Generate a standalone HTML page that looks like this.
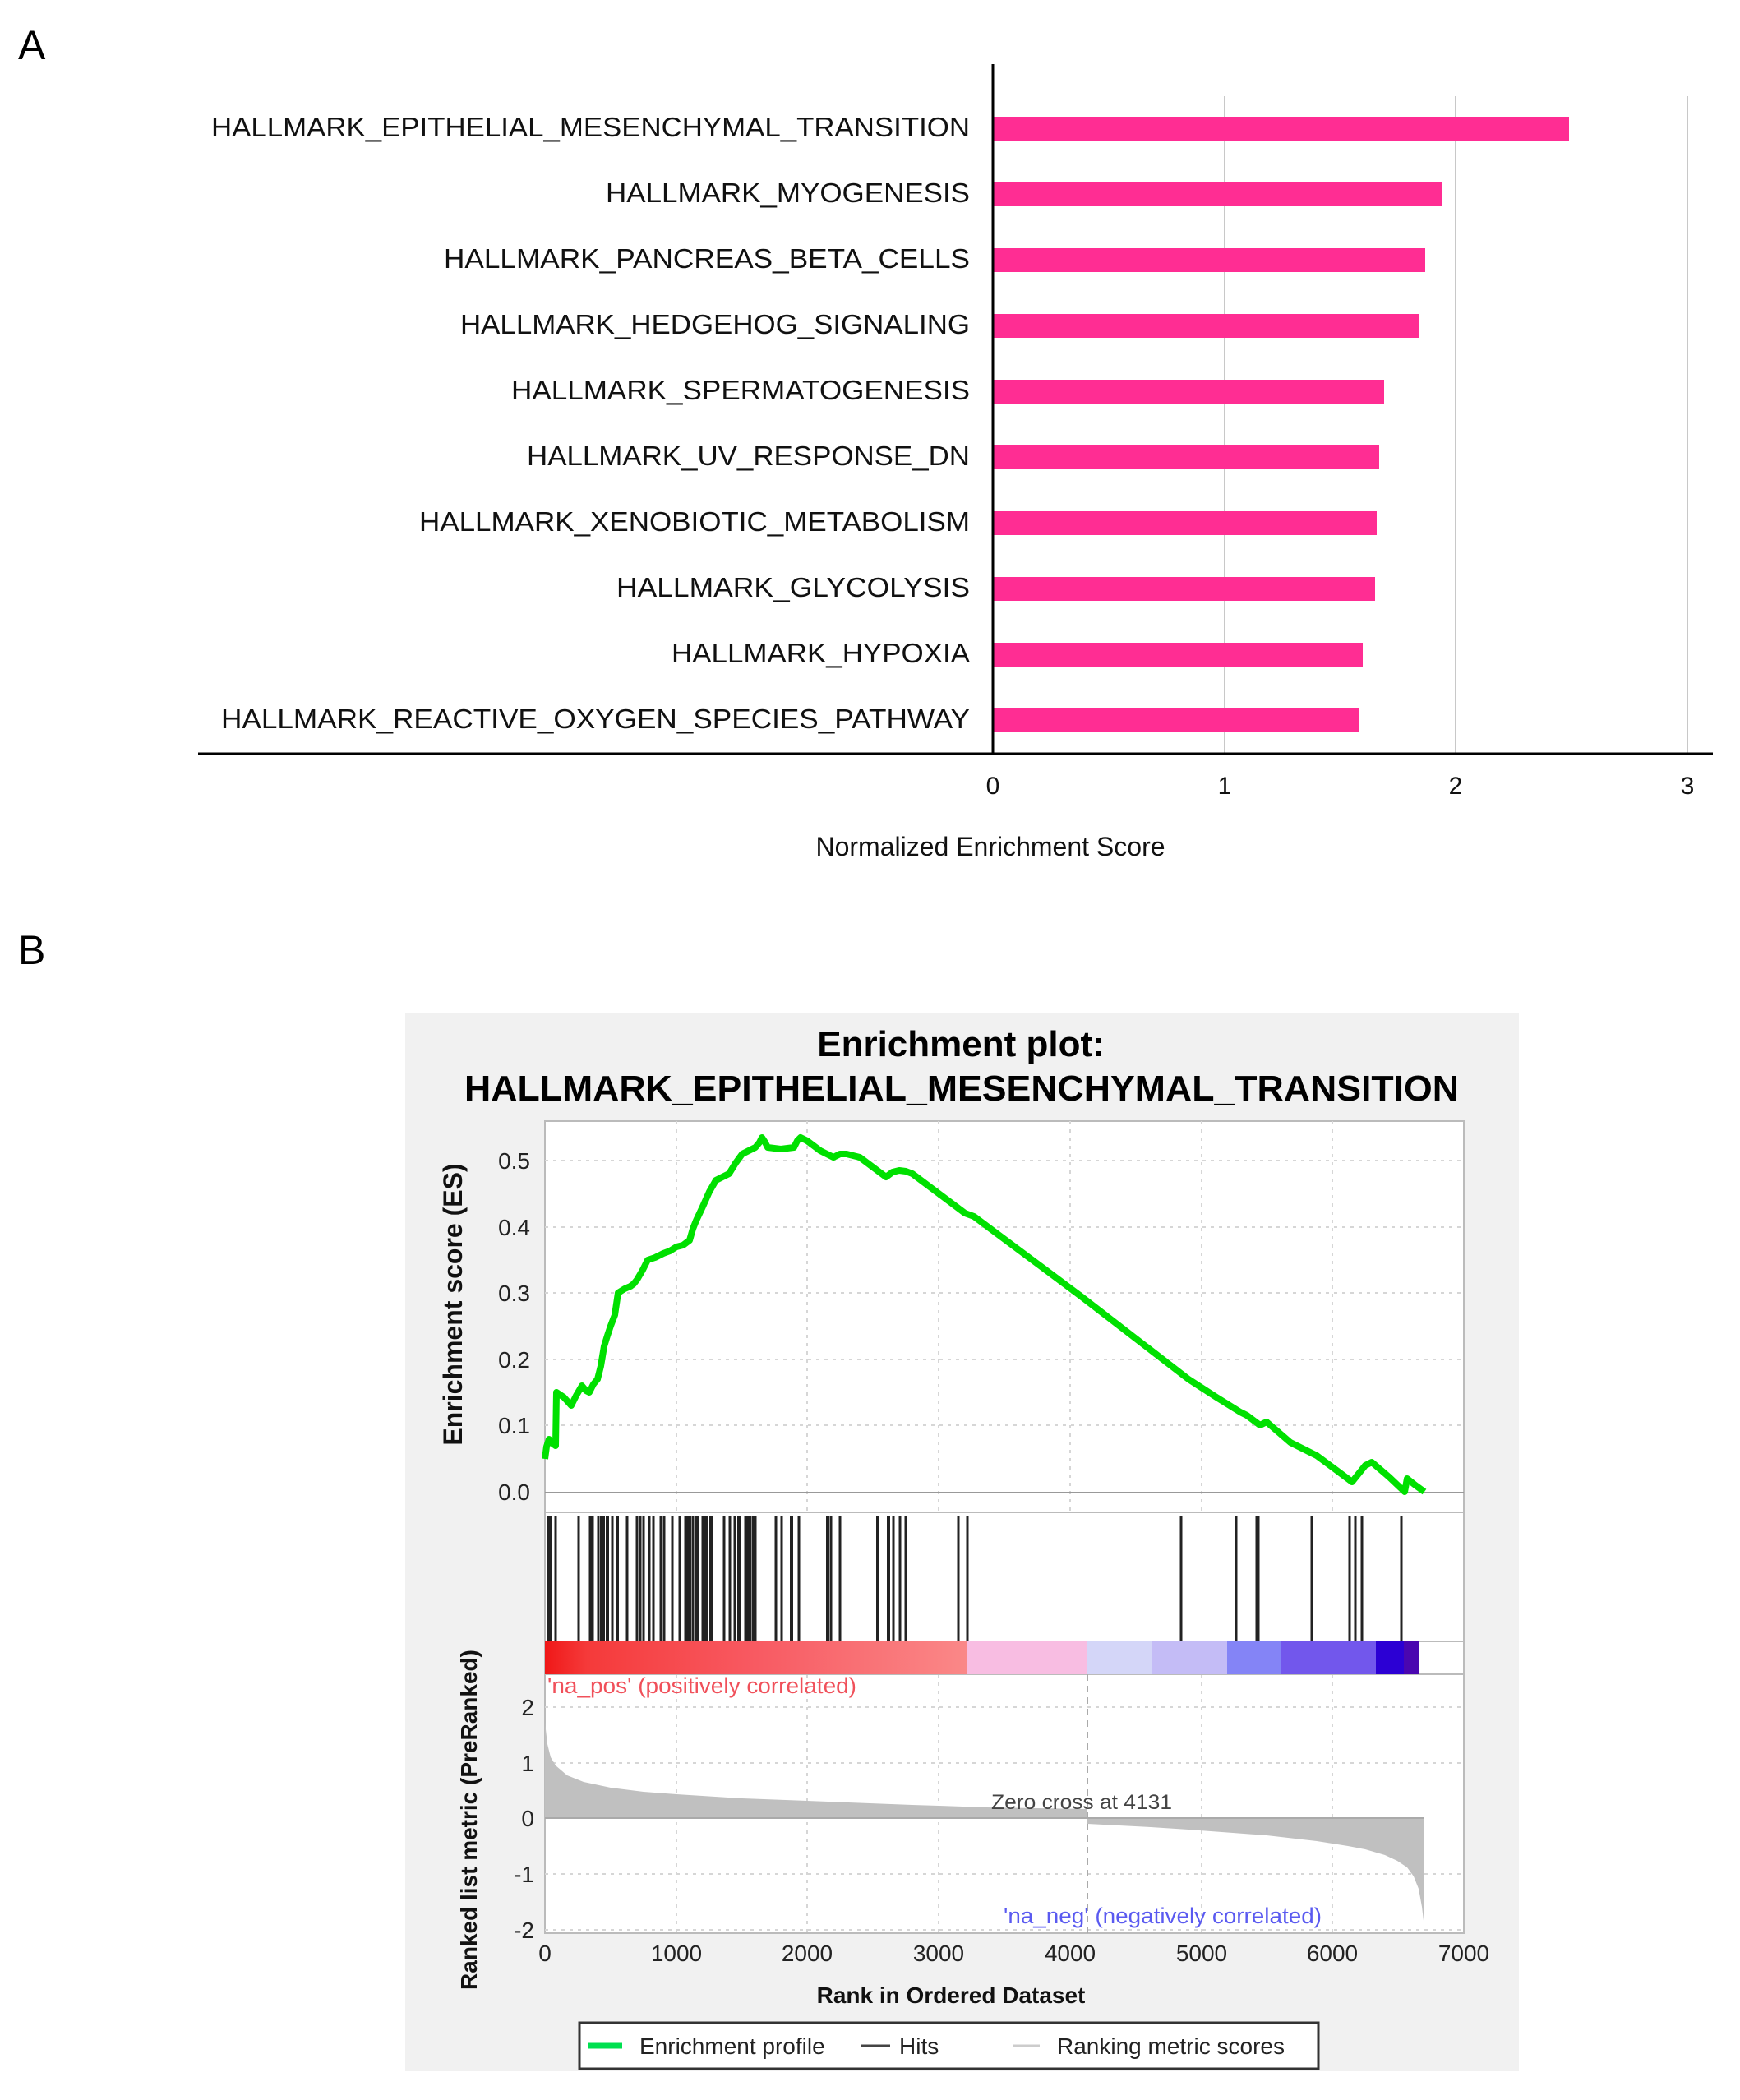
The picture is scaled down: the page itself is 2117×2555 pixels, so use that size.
<!DOCTYPE html>
<html><head><meta charset="utf-8"><style>html,body{margin:0;padding:0;background:#fff}svg{display:block}</style></head><body>
<svg width="2117" height="2555" viewBox="0 0 2117 2555" xmlns="http://www.w3.org/2000/svg" font-family="Liberation Sans, sans-serif">
<rect width="2117" height="2555" fill="#fff"/>
<text x="22" y="72" font-size="50" fill="#000">A</text>
<g stroke="#c8c8c8" stroke-width="2"><line x1="1490" y1="117" x2="1490" y2="917"/><line x1="1771" y1="117" x2="1771" y2="917"/><line x1="2053" y1="117" x2="2053" y2="917"/></g>
<g fill="#ff2d93">
<rect x="1208" y="142" width="701" height="29"/>
<rect x="1208" y="222" width="546" height="29"/>
<rect x="1208" y="302" width="526" height="29"/>
<rect x="1208" y="382" width="518" height="29"/>
<rect x="1208" y="462" width="476" height="29"/>
<rect x="1208" y="542" width="470" height="29"/>
<rect x="1208" y="622" width="467" height="29"/>
<rect x="1208" y="702" width="465" height="29"/>
<rect x="1208" y="782" width="450" height="29"/>
<rect x="1208" y="862" width="445" height="29"/>
</g>
<line x1="1208" y1="78" x2="1208" y2="918" stroke="#000" stroke-width="3"/>
<line x1="241" y1="917" x2="2084" y2="917" stroke="#000" stroke-width="3"/>
<g font-size="33" fill="#111">
<text x="257" y="166" textLength="923" lengthAdjust="spacingAndGlyphs">HALLMARK_EPITHELIAL_MESENCHYMAL_TRANSITION</text>
<text x="737" y="246" textLength="443" lengthAdjust="spacingAndGlyphs">HALLMARK_MYOGENESIS</text>
<text x="540" y="326" textLength="640" lengthAdjust="spacingAndGlyphs">HALLMARK_PANCREAS_BETA_CELLS</text>
<text x="560" y="406" textLength="620" lengthAdjust="spacingAndGlyphs">HALLMARK_HEDGEHOG_SIGNALING</text>
<text x="622" y="486" textLength="558" lengthAdjust="spacingAndGlyphs">HALLMARK_SPERMATOGENESIS</text>
<text x="641" y="566" textLength="539" lengthAdjust="spacingAndGlyphs">HALLMARK_UV_RESPONSE_DN</text>
<text x="510" y="646" textLength="670" lengthAdjust="spacingAndGlyphs">HALLMARK_XENOBIOTIC_METABOLISM</text>
<text x="750" y="726" textLength="430" lengthAdjust="spacingAndGlyphs">HALLMARK_GLYCOLYSIS</text>
<text x="817" y="806" textLength="363" lengthAdjust="spacingAndGlyphs">HALLMARK_HYPOXIA</text>
<text x="269" y="886" textLength="911" lengthAdjust="spacingAndGlyphs">HALLMARK_REACTIVE_OXYGEN_SPECIES_PATHWAY</text>
</g>
<g font-size="30" fill="#111" text-anchor="middle">
<text x="1208" y="966">0</text><text x="1490" y="966">1</text><text x="1771" y="966">2</text><text x="2053" y="966">3</text>
<text x="1205" y="1041" font-size="32">Normalized Enrichment Score</text>
</g>
<text x="22" y="1173" font-size="50" fill="#000">B</text>
<rect x="493" y="1232" width="1355" height="1288" fill="#f1f1f1"/>
<g font-weight="bold" text-anchor="middle" fill="#000">
<text x="1169" y="1285" font-size="44">Enrichment plot:</text>
<text x="1170" y="1339" font-size="44" textLength="1210" lengthAdjust="spacingAndGlyphs">HALLMARK_EPITHELIAL_MESENCHYMAL_TRANSITION</text>
</g>
<rect x="663" y="1364" width="1118" height="988" fill="#fff" stroke="#bbb" stroke-width="2"/>
<g stroke="#d6d6d6" stroke-width="2" stroke-dasharray="4,6">
<line x1="823" y1="1364" x2="823" y2="1840"/><line x1="982" y1="1364" x2="982" y2="1840"/><line x1="1142" y1="1364" x2="1142" y2="1840"/><line x1="1302" y1="1364" x2="1302" y2="1840"/><line x1="1462" y1="1364" x2="1462" y2="1840"/><line x1="1621" y1="1364" x2="1621" y2="1840"/>
<line x1="663" y1="1412" x2="1781" y2="1412"/><line x1="663" y1="1493" x2="1781" y2="1493"/><line x1="663" y1="1573" x2="1781" y2="1573"/><line x1="663" y1="1654" x2="1781" y2="1654"/><line x1="663" y1="1734" x2="1781" y2="1734"/>
<line x1="823" y1="2037" x2="823" y2="2352"/><line x1="982" y1="2037" x2="982" y2="2352"/><line x1="1142" y1="2037" x2="1142" y2="2352"/><line x1="1462" y1="2037" x2="1462" y2="2352"/><line x1="1621" y1="2037" x2="1621" y2="2352"/>
<line x1="663" y1="2077" x2="1781" y2="2077"/><line x1="663" y1="2145" x2="1781" y2="2145"/><line x1="663" y1="2280" x2="1781" y2="2280"/><line x1="663" y1="2348" x2="1781" y2="2348"/>
</g>
<line x1="663" y1="1816" x2="1781" y2="1816" stroke="#999" stroke-width="2"/>
<line x1="663" y1="1840" x2="1781" y2="1840" stroke="#bbb" stroke-width="2"/>
<line x1="663" y1="1997" x2="1781" y2="1997" stroke="#bbb" stroke-width="2"/>
<line x1="663" y1="2037" x2="1781" y2="2037" stroke="#bbb" stroke-width="2"/>
<polyline fill="none" stroke="#00e000" stroke-width="8" stroke-linejoin="round" points="663,1775 665,1760 668,1751 672,1756 676,1759 677,1694 686,1700 695,1710 701,1698 708,1686 713,1692 717,1694 722,1684 727,1678 731,1662 735,1638 739,1625 743,1613 748,1600 752,1573 760,1568 767,1565 771,1562 775,1557 782,1545 788,1533 797,1530 807,1525 815,1522 823,1517 831,1515 839,1509 843,1495 847,1485 855,1468 863,1450 871,1436 879,1432 887,1428 895,1415 903,1404 911,1400 919,1396 924,1390 927,1384 931,1390 934,1396 950,1398 966,1396 970,1388 974,1384 982,1388 998,1400 1014,1408 1022,1404 1030,1404 1046,1408 1062,1420 1078,1432 1086,1426 1094,1424 1102,1425 1110,1428 1142,1452 1174,1476 1185,1480 1315,1577 1446,1678 1480,1700 1509,1718 1517,1722 1533,1734 1541,1730 1570,1755 1602,1771 1625,1788 1645,1803 1661,1783 1669,1779 1690,1797 1709,1815 1712,1799 1722,1807 1733,1815"/>
<g stroke="#222" stroke-width="3">
<line x1="667" y1="1845" x2="667" y2="1997"/><line x1="670" y1="1845" x2="670" y2="1997"/><line x1="676" y1="1845" x2="676" y2="1997"/><line x1="704" y1="1845" x2="704" y2="1997"/><line x1="718" y1="1845" x2="718" y2="1997"/><line x1="721" y1="1845" x2="721" y2="1997"/><line x1="728" y1="1845" x2="728" y2="1997"/><line x1="733" y1="1845" x2="733" y2="1997" stroke-width="6"/><line x1="739" y1="1845" x2="739" y2="1997" stroke-width="4"/><line x1="745" y1="1845" x2="745" y2="1997"/><line x1="751" y1="1845" x2="751" y2="1997" stroke-width="4"/><line x1="763" y1="1845" x2="763" y2="1997"/><line x1="775" y1="1845" x2="775" y2="1997"/><line x1="779" y1="1845" x2="779" y2="1997"/><line x1="783" y1="1845" x2="783" y2="1997"/><line x1="790" y1="1845" x2="790" y2="1997"/><line x1="795" y1="1845" x2="795" y2="1997"/><line x1="804" y1="1845" x2="804" y2="1997"/><line x1="808" y1="1845" x2="808" y2="1997"/><line x1="818" y1="1845" x2="818" y2="1997"/><line x1="827" y1="1845" x2="827" y2="1997"/><line x1="834" y1="1845" x2="834" y2="1997"/><line x1="838" y1="1845" x2="838" y2="1997" stroke-width="6"/><line x1="843" y1="1845" x2="843" y2="1997"/><line x1="848" y1="1845" x2="848" y2="1997" stroke-width="4"/><line x1="855" y1="1845" x2="855" y2="1997"/><line x1="859" y1="1845" x2="859" y2="1997" stroke-width="6"/><line x1="865" y1="1845" x2="865" y2="1997" stroke-width="4"/><line x1="881" y1="1845" x2="881" y2="1997"/><line x1="888" y1="1845" x2="888" y2="1997"/><line x1="894" y1="1845" x2="894" y2="1997"/><line x1="899" y1="1845" x2="899" y2="1997" stroke-width="4"/><line x1="907" y1="1845" x2="907" y2="1997"/><line x1="911" y1="1845" x2="911" y2="1997" stroke-width="6"/><line x1="916" y1="1845" x2="916" y2="1997"/><line x1="919" y1="1845" x2="919" y2="1997"/><line x1="944" y1="1845" x2="944" y2="1997"/><line x1="951" y1="1845" x2="951" y2="1997"/><line x1="963" y1="1845" x2="963" y2="1997" stroke-width="4"/><line x1="972" y1="1845" x2="972" y2="1997"/><line x1="1007" y1="1845" x2="1007" y2="1997" stroke-width="4"/><line x1="1011" y1="1845" x2="1011" y2="1997"/><line x1="1022" y1="1845" x2="1022" y2="1997"/><line x1="1068" y1="1845" x2="1068" y2="1997" stroke-width="4"/><line x1="1081" y1="1845" x2="1081" y2="1997" stroke-width="4"/><line x1="1087" y1="1845" x2="1087" y2="1997"/><line x1="1095" y1="1845" x2="1095" y2="1997"/><line x1="1102" y1="1845" x2="1102" y2="1997"/><line x1="1166" y1="1845" x2="1166" y2="1997"/><line x1="1177" y1="1845" x2="1177" y2="1997"/>
<line x1="1437" y1="1845" x2="1437" y2="1997"/><line x1="1504" y1="1845" x2="1504" y2="1997"/><line x1="1530" y1="1845" x2="1530" y2="1997" stroke-width="5"/><line x1="1596" y1="1845" x2="1596" y2="1997"/><line x1="1642" y1="1845" x2="1642" y2="1997"/><line x1="1649" y1="1845" x2="1649" y2="1997"/><line x1="1657" y1="1845" x2="1657" y2="1997"/><line x1="1705" y1="1845" x2="1705" y2="1997"/>
</g>
<defs><linearGradient id="rg" x1="0" x2="1"><stop offset="0" stop-color="#f01818"/><stop offset="0.1" stop-color="#f53a3a"/><stop offset="0.5" stop-color="#f85a62"/><stop offset="1" stop-color="#fa8888"/></linearGradient></defs>
<rect x="663" y="1997" width="514" height="40" fill="url(#rg)"/>
<rect x="1177" y="1997" width="146" height="40" fill="#f8bde2"/>
<rect x="1323" y="1997" width="79" height="40" fill="#d4d6f8"/>
<rect x="1402" y="1997" width="91" height="40" fill="#c4bcf6"/>
<rect x="1493" y="1997" width="66" height="40" fill="#8484f6"/>
<rect x="1559" y="1997" width="115" height="40" fill="#7257ec"/>
<rect x="1674" y="1997" width="34" height="40" fill="#2c00d4"/>
<rect x="1708" y="1997" width="19" height="40" fill="#4a06b0"/>
<polygon fill="#c0c0c0" points="663,2212 663,2095 666,2122 670,2138 676,2148 690,2160 710,2168 743,2175 783,2180 823,2183 903,2188 982,2191 1110,2196 1142,2197 1200,2199 1322,2201 1322,2212"/>
<polygon fill="#c0c0c0" points="1323,2212 1323,2219 1400,2223 1446,2226 1500,2230 1541,2233 1602,2240 1640,2246 1661,2250 1685,2257 1700,2264 1712,2272 1720,2283 1726,2298 1730,2320 1733,2345 1733,2212"/>
<line x1="663" y1="2212" x2="1733" y2="2212" stroke="#aaa" stroke-width="2"/>
<line x1="1323" y1="2037" x2="1323" y2="2352" stroke="#aaa" stroke-width="2" stroke-dasharray="8,6"/>
<text x="1206" y="2201" font-size="25" fill="#444" textLength="220" lengthAdjust="spacingAndGlyphs">Zero cross at 4131</text>
<text x="666" y="2060" font-size="27" fill="#f0505a" textLength="376" lengthAdjust="spacingAndGlyphs">'na_pos' (positively correlated)</text>
<text x="1221" y="2340" font-size="27" fill="#5a5af0" textLength="387" lengthAdjust="spacingAndGlyphs">'na_neg' (negatively correlated)</text>
<g font-size="28" fill="#222" text-anchor="end">
<text x="645" y="1422">0.5</text><text x="645" y="1503">0.4</text><text x="645" y="1583">0.3</text><text x="645" y="1664">0.2</text><text x="645" y="1744">0.1</text><text x="645" y="1825">0.0</text>
<text x="650" y="2087">2</text><text x="650" y="2155">1</text><text x="650" y="2222">0</text><text x="650" y="2290">-1</text><text x="650" y="2358">-2</text>
</g>
<g font-size="28" fill="#222" text-anchor="middle">
<text x="663" y="2386">0</text><text x="823" y="2386">1000</text><text x="982" y="2386">2000</text><text x="1142" y="2386">3000</text><text x="1302" y="2386">4000</text><text x="1462" y="2386">5000</text><text x="1621" y="2386">6000</text><text x="1781" y="2386">7000</text>
</g>
<text x="1157" y="2437" font-size="28" font-weight="bold" text-anchor="middle" fill="#111">Rank in Ordered Dataset</text>
<text transform="translate(562,1587) rotate(-90)" font-size="32" font-weight="bold" text-anchor="middle" fill="#111">Enrichment score (ES)</text>
<text transform="translate(580,2214) rotate(-90)" font-size="28" font-weight="bold" text-anchor="middle" fill="#111">Ranked list metric (PreRanked)</text>
<rect x="705" y="2461" width="899" height="56" fill="#fff" stroke="#333" stroke-width="3"/>
<line x1="716" y1="2489" x2="757" y2="2489" stroke="#00e050" stroke-width="7"/>
<text x="778" y="2499" font-size="28" fill="#222">Enrichment profile</text>
<line x1="1047" y1="2489" x2="1083" y2="2489" stroke="#444" stroke-width="3"/>
<text x="1094" y="2499" font-size="28" fill="#222">Hits</text>
<line x1="1232" y1="2489" x2="1265" y2="2489" stroke="#ccc" stroke-width="3"/>
<text x="1286" y="2499" font-size="28" fill="#222">Ranking metric scores</text>
</svg>
</body></html>
